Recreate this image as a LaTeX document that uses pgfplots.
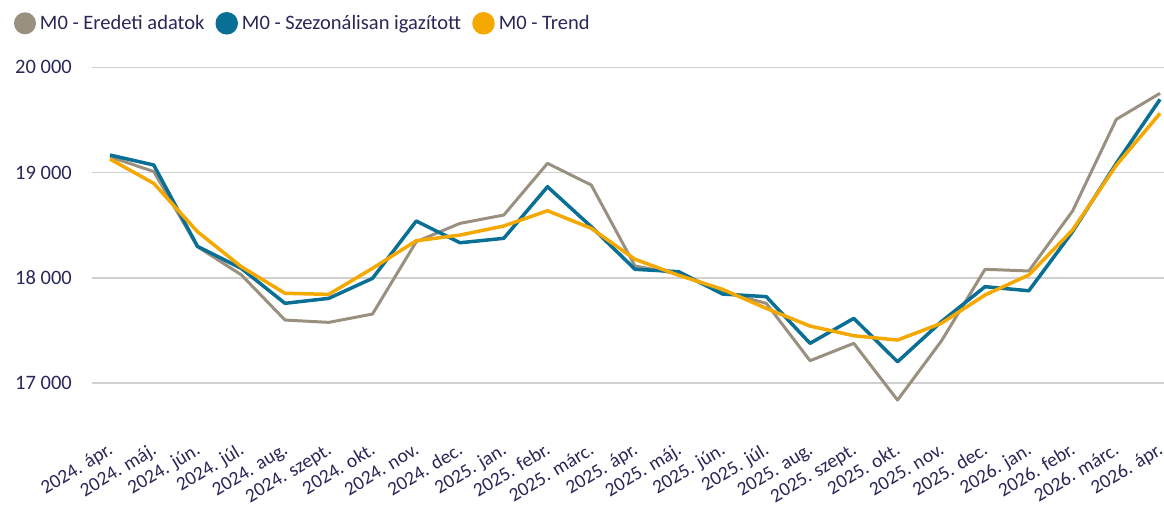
\documentclass[border=0pt]{standalone}
\usepackage{pgfplots}
\pgfplotsset{compat=1.18}
\usepackage{fontspec}
\setmainfont{Carlito}
\definecolor{cgray}{HTML}{9A9080}
\definecolor{cblue}{HTML}{0A6F95}
\definecolor{corange}{HTML}{F5A800}
\definecolor{ctext}{HTML}{272858}
\definecolor{cgrid}{HTML}{D0D0D0}
\newcommand{\xl}[1]{\mbox{\fontsize{19.5}{23}\selectfont #1}}
\begin{document}
\begin{tikzpicture}
\useasboundingbox (-92pt,-75.1pt) rectangle (1072pt,435.9pt);
\begin{axis}[
  scale only axis,
  width=1072pt, height=368.6pt,
  xmin=-0.411, xmax=24.09,
  ymin=16500, ymax=20000,
  ytick={17000,18000,19000,20000},
  scaled y ticks=false,
  xtick={0,...,24},
  xticklabels={\xl{2024. ápr.},\xl{2024. máj.},\xl{2024. jún.},\xl{2024. júl.},\xl{2024. aug.},\xl{2024. szept.},\xl{2024. okt.},\xl{2024. nov.},\xl{2024. dec.},\xl{2025. jan.},\xl{2025. febr.},\xl{2025. márc.},\xl{2025. ápr.},\xl{2025. máj.},\xl{2025. jún.},\xl{2025. júl.},\xl{2025. aug.},\xl{2025. szept.},\xl{2025. okt.},\xl{2025. nov.},\xl{2025. dec.},\xl{2026. jan.},\xl{2026. febr.},\xl{2026. márc.},\xl{2026. ápr.}},
  axis line style={draw=none},
  major tick length=0pt,
  ymajorgrids,
  grid style={cgrid, line width=1.5pt},
  /pgf/number format/assume math mode=true,
  /pgf/number format/1000 sep={\ },
  yticklabel style={font=\fontsize{20.5}{24}\selectfont, text=ctext, anchor=east, inner sep=0pt, xshift=-20pt},
  xticklabel style={font=\fontsize{19.5}{23}\selectfont, text=ctext, rotate=31, anchor=base east, inner sep=0pt, yshift=-17pt, xshift=-5.5pt},
  clip=false,
  legend columns=3,
  legend image code/.code={\fill[#1] (9.5pt,0pt) circle (9.5pt);},
  legend style={draw=none, fill=none, at={(0,1)}, anchor=west, xshift=-78pt, yshift=44pt,
    inner sep=0pt, outer sep=0pt, font=\fontsize{20.5}{24}\selectfont, text=ctext,
    cells={anchor=west},
    nodes={inner sep=0pt, outer sep=0pt},
    /tikz/every odd column/.style={column sep=4pt},
    /tikz/every even column/.style={column sep=11pt}},
]
\addplot[cgray, line width=3pt, line join=round] coordinates {
(0,19150) (1,19010) (2,18296) (3,18030) (4,17600) (5,17578) (6,17657) (7,18344) (8,18518) (9,18597) (10,19088) (11,18882) (12,18113) (13,18037) (14,17869) (15,17759) (16,17214) (17,17379) (18,16840) (19,17400) (20,18082) (21,18066) (22,18635) (23,19506) (24,19753)};
\addlegendentry{M0 - Eredeti adatok}
\addplot[cblue, line width=3.5pt, line join=round] coordinates {
(0,19167) (1,19072) (2,18300) (3,18091) (4,17759) (5,17806) (6,17996) (7,18540) (8,18334) (9,18376) (10,18866) (11,18486) (12,18082) (13,18059) (14,17847) (15,17822) (16,17379) (17,17616) (18,17204) (19,17584) (20,17917) (21,17878) (22,18439) (23,19088) (24,19696)};
\addlegendentry{M0 - Szezonálisan igazított}
\addplot[corange, line width=3.5pt, line join=round] coordinates {
(0,19129) (1,18898) (2,18439) (3,18107) (4,17854) (5,17844) (6,18091) (7,18353) (8,18407) (9,18493) (10,18638) (11,18471) (12,18177) (13,18025) (14,17892) (15,17711) (16,17543) (17,17451) (18,17410) (19,17569) (20,17838) (21,18028) (22,18455) (23,19070) (24,19563)};
\addlegendentry{M0 - Trend}
\end{axis}
\end{tikzpicture}
\end{document}
